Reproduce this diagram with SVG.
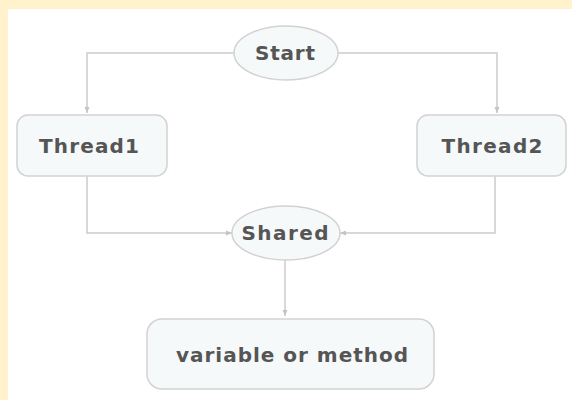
<svg xmlns="http://www.w3.org/2000/svg" width="572" height="400" viewBox="0 0 572 400">
<defs>
<style>
.node{fill:#f6f9f9;stroke:#d2d2d2;stroke-width:1.5}
.lbl{font-family:"DejaVu Sans","Liberation Sans",sans-serif;font-weight:bold;font-size:20px;fill:#555555;text-anchor:middle}
.conn{fill:none;stroke:#cccccc;stroke-width:1.5;marker-end:url(#arr)}
</style>
<marker id="arr" viewBox="0 0 6 6" refX="6" refY="3" markerWidth="6" markerHeight="6" markerUnits="userSpaceOnUse" orient="auto">
<path d="M0,0.5 L6,3 L0,5.5 Z" fill="#c4c4c4"/>
</marker>
</defs>
<rect x="0" y="0" width="572" height="400" fill="#fff2cc"/>
<rect x="8" y="9" width="564" height="391" fill="#ffffff"/>
<g id="connectors">
<path class="conn" d="M234,53 H87 V113"/>
<path class="conn" d="M338,53 H497 V113"/>
<path class="conn" d="M87,176 V233 H232"/>
<path class="conn" d="M495,176 V233 H340"/>
<path class="conn" d="M285,260 V316"/>
</g>
<g id="start">
<ellipse class="node" cx="286" cy="53" rx="52" ry="27"/>
<text class="lbl" x="285" y="60" textLength="60" lengthAdjust="spacing">Start</text>
</g>
<g id="thread1">
<rect class="node" x="17" y="115" width="150" height="61" rx="11"/>
<text class="lbl" x="89" y="153" textLength="100" lengthAdjust="spacing">Thread1</text>
</g>
<g id="thread2">
<rect class="node" x="417" y="115" width="149" height="61" rx="11"/>
<text class="lbl" x="492" y="153" textLength="101" lengthAdjust="spacing">Thread2</text>
</g>
<g id="shared">
<ellipse class="node" cx="286" cy="233" rx="54" ry="27"/>
<text class="lbl" x="285" y="240" textLength="87" lengthAdjust="spacing">Shared</text>
</g>
<g id="variable">
<rect class="node" x="147" y="319" width="287" height="70" rx="15"/>
<text class="lbl" x="292" y="362" textLength="232" lengthAdjust="spacing">variable or method</text>
</g>
</svg>
